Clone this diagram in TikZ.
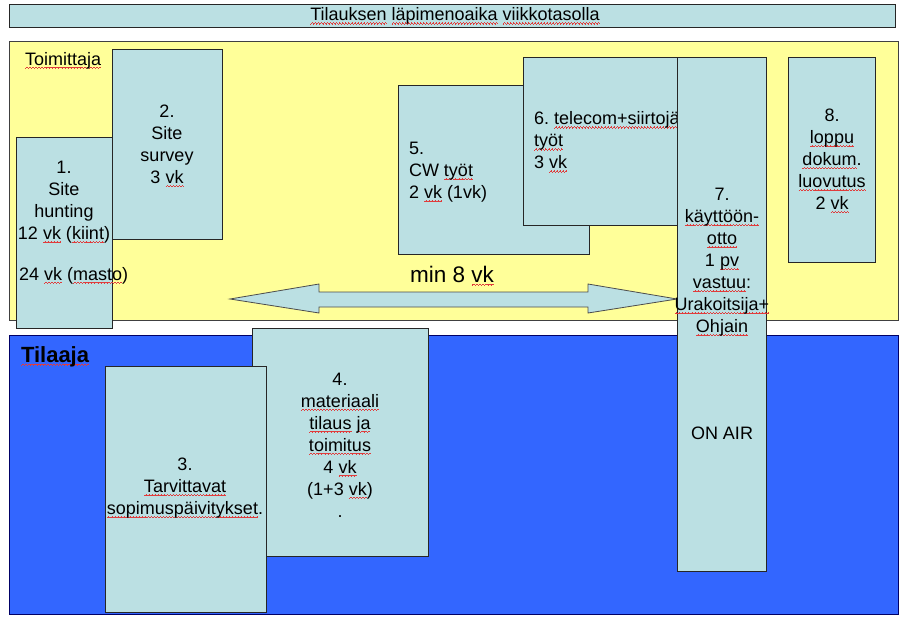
\documentclass[tikz,border=0pt]{standalone}
\usepackage{fontspec}
\setmainfont{Liberation Sans}
\usepackage{xcolor}
\frenchspacing

\definecolor{boxfill}{HTML}{BBE0E3}
\definecolor{suppfill}{HTML}{FFFF99}
\definecolor{custfill}{HTML}{3366FF}
\definecolor{wavered}{HTML}{E03C3C}

% red wavy underline for flagged words, built from short rules
\newcommand\wavecell{\hbox{\rule[-3.6pt]{0.75pt}{0.7pt}\rule[-2.9pt]{0.75pt}{0.7pt}\rule[-2.2pt]{0.75pt}{0.7pt}\rule[-2.9pt]{0.75pt}{0.7pt}}}
\newcommand\spl[1]{\setbox0\hbox{#1}\leavevmode
  \rlap{\color{wavered}\hbox to \wd0{\xleaders\wavecell\hfill}}\box0\relax}

\begin{document}
\begin{tikzpicture}[x=1pt,y=-1pt,
  every node/.style={inner sep=0pt, outer sep=0pt},
  txt/.style={font=\fontsize{18}{22}\selectfont, align=center},
  ltxt/.style={font=\fontsize{18}{22}\selectfont, align=left, anchor=west},
  card/.style={draw=black!85, line width=0.9pt, fill=boxfill, anchor=north west},
  band/.style={draw=black!75, line width=0.9pt, anchor=north west}]
\useasboundingbox (0,0) rectangle (899,616);
\fill[white] (0,0) rectangle (899,616);

% title bar
\node[card, minimum width=886, minimum height=23] (title) at (9.5,4) {};
\node[txt] (titletext) at (455,16) {\spl{Tilauksen} \spl{läpimenoaika} \spl{viikkotasolla}};

% supplier and customer bands
\node[band, fill=suppfill, minimum width=889, minimum height=279] (supplier) at (9,41) {};
\node[band, draw=black!60!blue, fill=custfill, minimum width=889, minimum height=279] (customer) at (9,335) {};
\node[font=\fontsize{18}{22}\selectfont, anchor=base west] (supplabel) at (25,65) {\spl{Toimittaja}};
\node[font=\fontsize{22}{26}\selectfont\bfseries, anchor=base west] (custlabel) at (21,362) {\spl{Tilaaja}};

% 2. site survey
\node[card, minimum width=110, minimum height=190] (s2) at (112,49) {};
\node[txt] (s2text) at (167,146) {2.\\Site\\survey\\3 \spl{vk}};

% 1. site hunting
\node[card, minimum width=96, minimum height=191] (s1) at (16,137) {};
\node[txt] (s1text) at (64,202) {1.\\Site\\hunting\\12 \spl{vk} (\spl{kiint})};
\node[font=\fontsize{18}{22}\selectfont, anchor=base west] (s1extra) at (19,280) {24 \spl{vk} (\spl{masto})};

% overall duration arrow
\coordinate (spanL) at (230,299);
\coordinate (spanR) at (677,299);
\path[fill=boxfill, draw=black!70, line width=0.8pt]
  (spanL) -- (319,284) -- (319,292) -- (588,292) -- (588,284) -- (spanR)
  -- (588,313) -- (588,307) -- (319,307) -- (319,313) -- cycle;
\node[font=\fontsize{22.5}{26}\selectfont, anchor=base] (spanlabel) at (452,282) {min 8 \spl{vk}};

% 5. CW works
\node[card, minimum width=191, minimum height=169] (s5) at (398,85) {};
\node[ltxt] (s5text) at (409,172) {5.\\CW \spl{työt}\\2 \spl{vk} (1vk)};

% 6. telecom works
\node[card, minimum width=170, minimum height=168] (s6) at (523,57) {};
\node[ltxt] (s6text) at (534,142) {6. \spl{telecom+siirtojä}\\\spl{työt}\\3 \spl{vk}};

% 4. material order
\node[card, minimum width=176, minimum height=228] (s4) at (252,328) {};
\node[txt] (s4text) at (340,445) {4.\\\spl{materiaali}\\\spl{tilaus} \spl{ja}\\ \spl{toimitus}\\4 \spl{vk}\\(1+3 \spl{vk})\\.};

% 3. contract updates
\node[card, minimum width=161, minimum height=246] (s3) at (105,366) {};
\node[txt] (s3text) at (185,488) {3.\\\spl{Tarvittavat}\\\spl{sopimuspäivitykset}.};

% 7. commissioning
\node[card, minimum width=89, minimum height=514] (s7) at (677,57) {};
\node[txt] (s7text) at (722,262) {7.\\\spl{käyttöön-}\\\spl{otto}\\1 \spl{pv}\\\spl{vastuu}:\\\spl{Urakoitsija+}\\\spl{Ohjain}};
\node[txt] (onair) at (722,433) {ON AIR};

% 8. final documentation
\node[card, minimum width=87, minimum height=205] (s8) at (788,57) {};
\node[txt] (s8text) at (832,161) {8.\\\spl{loppu}\\\spl{dokum}.\\\spl{luovutus}\\2 \spl{vk}};
\end{tikzpicture}
\end{document}
